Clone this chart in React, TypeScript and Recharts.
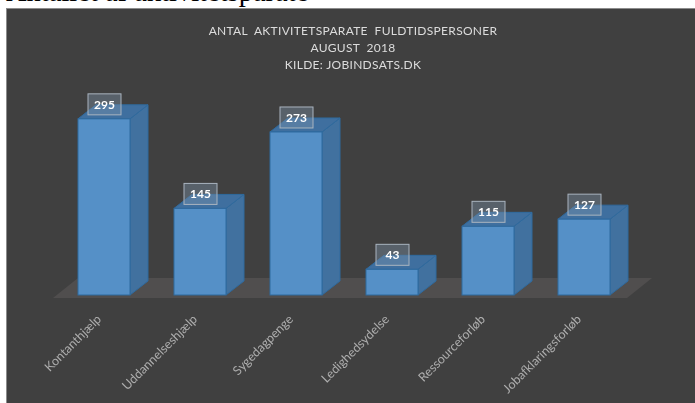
import { BarChart, Bar, XAxis, YAxis, LabelList, usePlotArea } from 'recharts'

const categories = ['Kontanthjælp', 'Uddannelseshjælp', 'Sygedagpenge', 'Ledighedsydelse', 'Ressourceforløb', 'Jobafklaringsforløb']
const values = [295, 145, 273, 43, 115, 127]
const titleLines = ['ANTAL  AKTIVITETSPARATE  FULDTIDSPERSONER', 'AUGUST  2018', 'KILDE: JOBINDSATS.DK']

const data = categories.map((name, i) => ({ name, value: values[i] }))

const DX = 18
const DY = 14

function Floor() {
  const plot = usePlotArea()
  if (!plot) return null
  const bottom = plot.y + plot.height
  const l = plot.x - 3
  const r = plot.x + plot.width - 5
  const pts = `${l},${bottom + 3} ${r},${bottom + 3} ${r + 25},${bottom - 17} ${l + 25},${bottom - 17}`
  return <polygon points={pts} fill="#504e4e" />
}

function Bar3D({ x, y, width, height }: any) {
  const right = x + width
  const bottom = y + height
  return (
    <g stroke="#2f6a9e" strokeWidth={1}>
      <polygon points={`${right},${y} ${right + DX},${y - DY} ${right + DX},${bottom - DY} ${right},${bottom}`} fill="#41719f" />
      <polygon points={`${x},${y} ${x + DX},${y - DY} ${right + DX},${y - DY} ${right},${y}`} fill="#3f6f9f" />
      <rect x={x} y={y} width={width} height={height} fill="#5590c7" />
    </g>
  )
}

function ValueBox({ x, y, width, value }: any) {
  const cx = x + width / 2
  return (
    <g>
      <rect x={cx - 16} y={y - 25} width={33} height={21} fill="#7d94aa" fillOpacity={0.4} stroke="#a9b4bf" />
      <text x={cx + 0.5} y={y - 10} textAnchor="middle" fontSize={12} fontWeight={700} fill="#ffffff" fontFamily="Lato, 'Noto Sans', sans-serif">{value}</text>
    </g>
  )
}

function CategoryTick({ x, y, payload }: any) {
  return (
    <text
      transform={`translate(${x - 2},${y + 17}) rotate(-45)`}
      textAnchor="end"
      fontSize={12.5}
      fill="#adadad"
      fontFamily="Lato, 'Noto Sans', sans-serif"
    >
      {payload.value}
    </text>
  )
}

export default function App() {
  return (
    <div style={{ position: 'absolute', left: 0, top: 0, width: 695, height: 403, overflow: 'hidden', background: '#fff' }}>
      <div style={{ position: 'absolute', left: 6, top: -24, fontFamily: "'Liberation Serif', serif", fontSize: 28.5, whiteSpace: 'nowrap', color: '#000' }}>
        Antallet af aktivitetsparate
      </div>
      <div style={{ position: 'absolute', left: 6, top: 8, width: 689, height: 395, background: '#404040', borderTop: '1px solid #8c8c8c', borderLeft: '1px solid #8c8c8c', boxSizing: 'border-box' }} />
      <div style={{ position: 'absolute', left: 0, top: 0, filter: 'blur(0.6px)' }}>
        <BarChart width={695} height={403} data={data} margin={{ top: 86, right: 63, bottom: 78, left: 56 }} barSize={52}>
          <Floor />
          <XAxis dataKey="name" height={30} axisLine={false} tickLine={false} interval={0} tick={<CategoryTick />} />
          <YAxis hide domain={[0, 350]} />
          <Bar dataKey="value" shape={<Bar3D />} isAnimationActive={false}>
            <LabelList dataKey="value" content={<ValueBox />} />
          </Bar>
        </BarChart>
      </div>
      <div style={{ position: 'absolute', left: 0, top: 22, width: 706, textAlign: 'center', fontFamily: "Lato, 'Noto Sans', sans-serif", fontSize: 12, lineHeight: '17px', color: '#dcdcdc', letterSpacing: 0.3, whiteSpace: 'pre', filter: 'blur(0.6px)' }}>
        {titleLines.map(line => <div key={line}>{line}</div>)}
      </div>
    </div>
  )
}
